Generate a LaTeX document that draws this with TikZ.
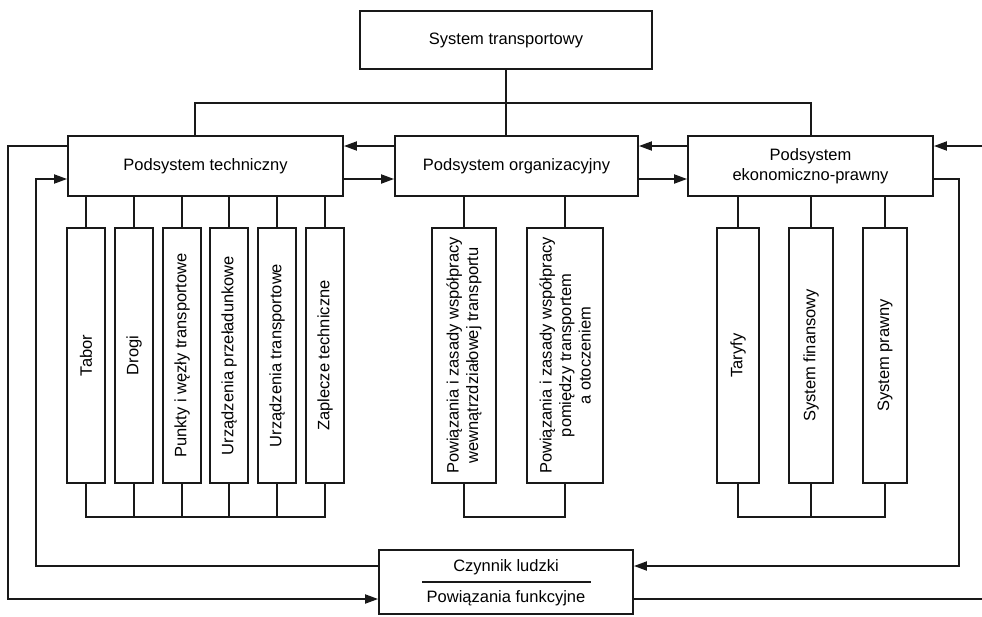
\documentclass[tikz,border=0pt]{standalone}
\usepackage{fontspec}
\setmainfont{Liberation Sans}
\usetikzlibrary{arrows.meta}
\newcommand\diagfont{\fontsize{16.5}{19.5}\selectfont}
\tikzset{
  ln/.style={line width=1.8pt, draw=black!90},
  mybox/.style={draw=black!90, line width=1.8pt, fill=white, inner sep=0pt, align=center, font=\diagfont},
  arr/.style={ln, -{Triangle[length=13pt,width=9pt]}},
  txt/.style={inner sep=0pt, font=\diagfont}
}
\begin{document}
\begin{tikzpicture}[x=1pt,y=-1pt]
\clip (0,0) rectangle (982,616);
\fill[white] (0,0) rectangle (982,616);
% main boxes
\node[mybox, minimum width=292pt, minimum height=58pt] (top) at (506,40) {System transportowy};
\node[mybox, minimum width=275pt, minimum height=60pt] (tech) at (205.5,166) {Podsystem techniczny};
\node[mybox, minimum width=243pt, minimum height=60pt] (org) at (516.5,166) {Podsystem organizacyjny};
\node[mybox, minimum width=245pt, minimum height=60pt] (eko) at (810.5,166) {Podsystem\\ekonomiczno-prawny};
% technical sub-boxes
\node[mybox, minimum width=255pt, minimum height=38pt, rotate=90] (tabor) at (86,355.5) {Tabor};
\node[mybox, minimum width=255pt, minimum height=38pt, rotate=90] (drogi) at (134,355.5) {Drogi};
\node[mybox, minimum width=255pt, minimum height=38pt, rotate=90] (punkty) at (182,355.5) {Punkty i węzły transportowe};
\node[mybox, minimum width=255pt, minimum height=38pt, rotate=90] (uprz) at (229,355.5) {Urządzenia przeładunkowe};
\node[mybox, minimum width=255pt, minimum height=38pt, rotate=90] (utr) at (277,355.5) {Urządzenia transportowe};
\node[mybox, minimum width=255pt, minimum height=38pt, rotate=90] (zap) at (325,355.5) {Zaplecze techniczne};
% organisational sub-boxes
\node[mybox, minimum width=255pt, minimum height=64pt, rotate=90] (org1) at (464,355.5) {Powiązania i zasady współpracy\\wewnątrzdziałowej transportu};
\node[mybox, minimum width=255pt, minimum height=76pt, rotate=90] (org2) at (565,355.5) {Powiązania i zasady współpracy\\pomiędzy transportem\\a otoczeniem};
% economic sub-boxes
\node[mybox, minimum width=255pt, minimum height=42pt, rotate=90] (tar) at (738,355.5) {Taryfy};
\node[mybox, minimum width=255pt, minimum height=44pt, rotate=90] (fin) at (811,355.5) {System finansowy};
\node[mybox, minimum width=255pt, minimum height=44pt, rotate=90] (praw) at (885,355.5) {System prawny};
% human factor box
\node[mybox, minimum width=254pt, minimum height=64pt] (hum) at (506,582) {};
\node[txt] (cz) at (506,567) {Czynnik ludzki};
\node[txt] (pf) at (506,598) {Powiązania funkcyjne};
\coordinate (sepL) at (422,582);
\coordinate (sepR) at (591,582);
\draw[ln] (sepL) -- (sepR);
% helper coordinates
\coordinate (busL) at (195,103);
\coordinate (busR) at (811,103);
\coordinate (yU) at (0,146);
\coordinate (yL) at (0,179);
\coordinate (yC) at (0,566);
\coordinate (yP) at (0,599);
\coordinate (yB) at (0,517);
\coordinate (xLo) at (8,0);
\coordinate (xLi) at (36,0);
\coordinate (xRi) at (959,0);
\coordinate (xRo) at (992,0);
% top connections
\draw[ln] (top.south) -- (top.south |- org.north);
\draw[ln] (busL |- tech.north) -- (busL) -- (busR) -- (busR |- eko.north);
% arrows between subsystems
\draw[arr] (org.west |- yU) -- (tech.east |- yU);
\draw[arr] (eko.west |- yU) -- (org.east |- yU);
\draw[arr] (tech.east |- yL) -- (org.west |- yL);
\draw[arr] (org.east |- yL) -- (eko.west |- yL);
% feedback loops
\draw[arr] (tech.west |- yU) -- (xLo |- yU) -- (xLo |- yP) -- (hum.west |- yP);
\draw[arr] (hum.west |- yC) -- (xLi |- yC) -- (xLi |- yL) -- (tech.west |- yL);
\draw[arr] (eko.east |- yL) -- (xRi |- yL) -- (xRi |- yC) -- (hum.east |- yC);
\draw[arr] (hum.east |- yP) -- (xRo |- yP) -- (xRo |- yU) -- (eko.east |- yU);
% technical branches
\foreach \n in {tabor,drogi,punkty,uprz,utr,zap}{
  \draw[ln] (\n.east) -- (\n.east |- tech.south);
}
\draw[ln] (tabor.west) -- (tabor.west |- yB) -- (zap.west |- yB) -- (zap.west);
\foreach \n in {drogi,punkty,uprz,utr}{
  \draw[ln] (\n.west) -- (\n.west |- yB);
}
% organisational branches
\foreach \n in {org1,org2}{
  \draw[ln] (\n.east) -- (\n.east |- org.south);
}
\draw[ln] (org1.west) -- (org1.west |- yB) -- (org2.west |- yB) -- (org2.west);
% economic branches
\foreach \n in {tar,fin,praw}{
  \draw[ln] (\n.east) -- (\n.east |- eko.south);
}
\draw[ln] (tar.west) -- (tar.west |- yB) -- (praw.west |- yB) -- (praw.west);
\draw[ln] (fin.west) -- (fin.west |- yB);
\end{tikzpicture}
\end{document}
